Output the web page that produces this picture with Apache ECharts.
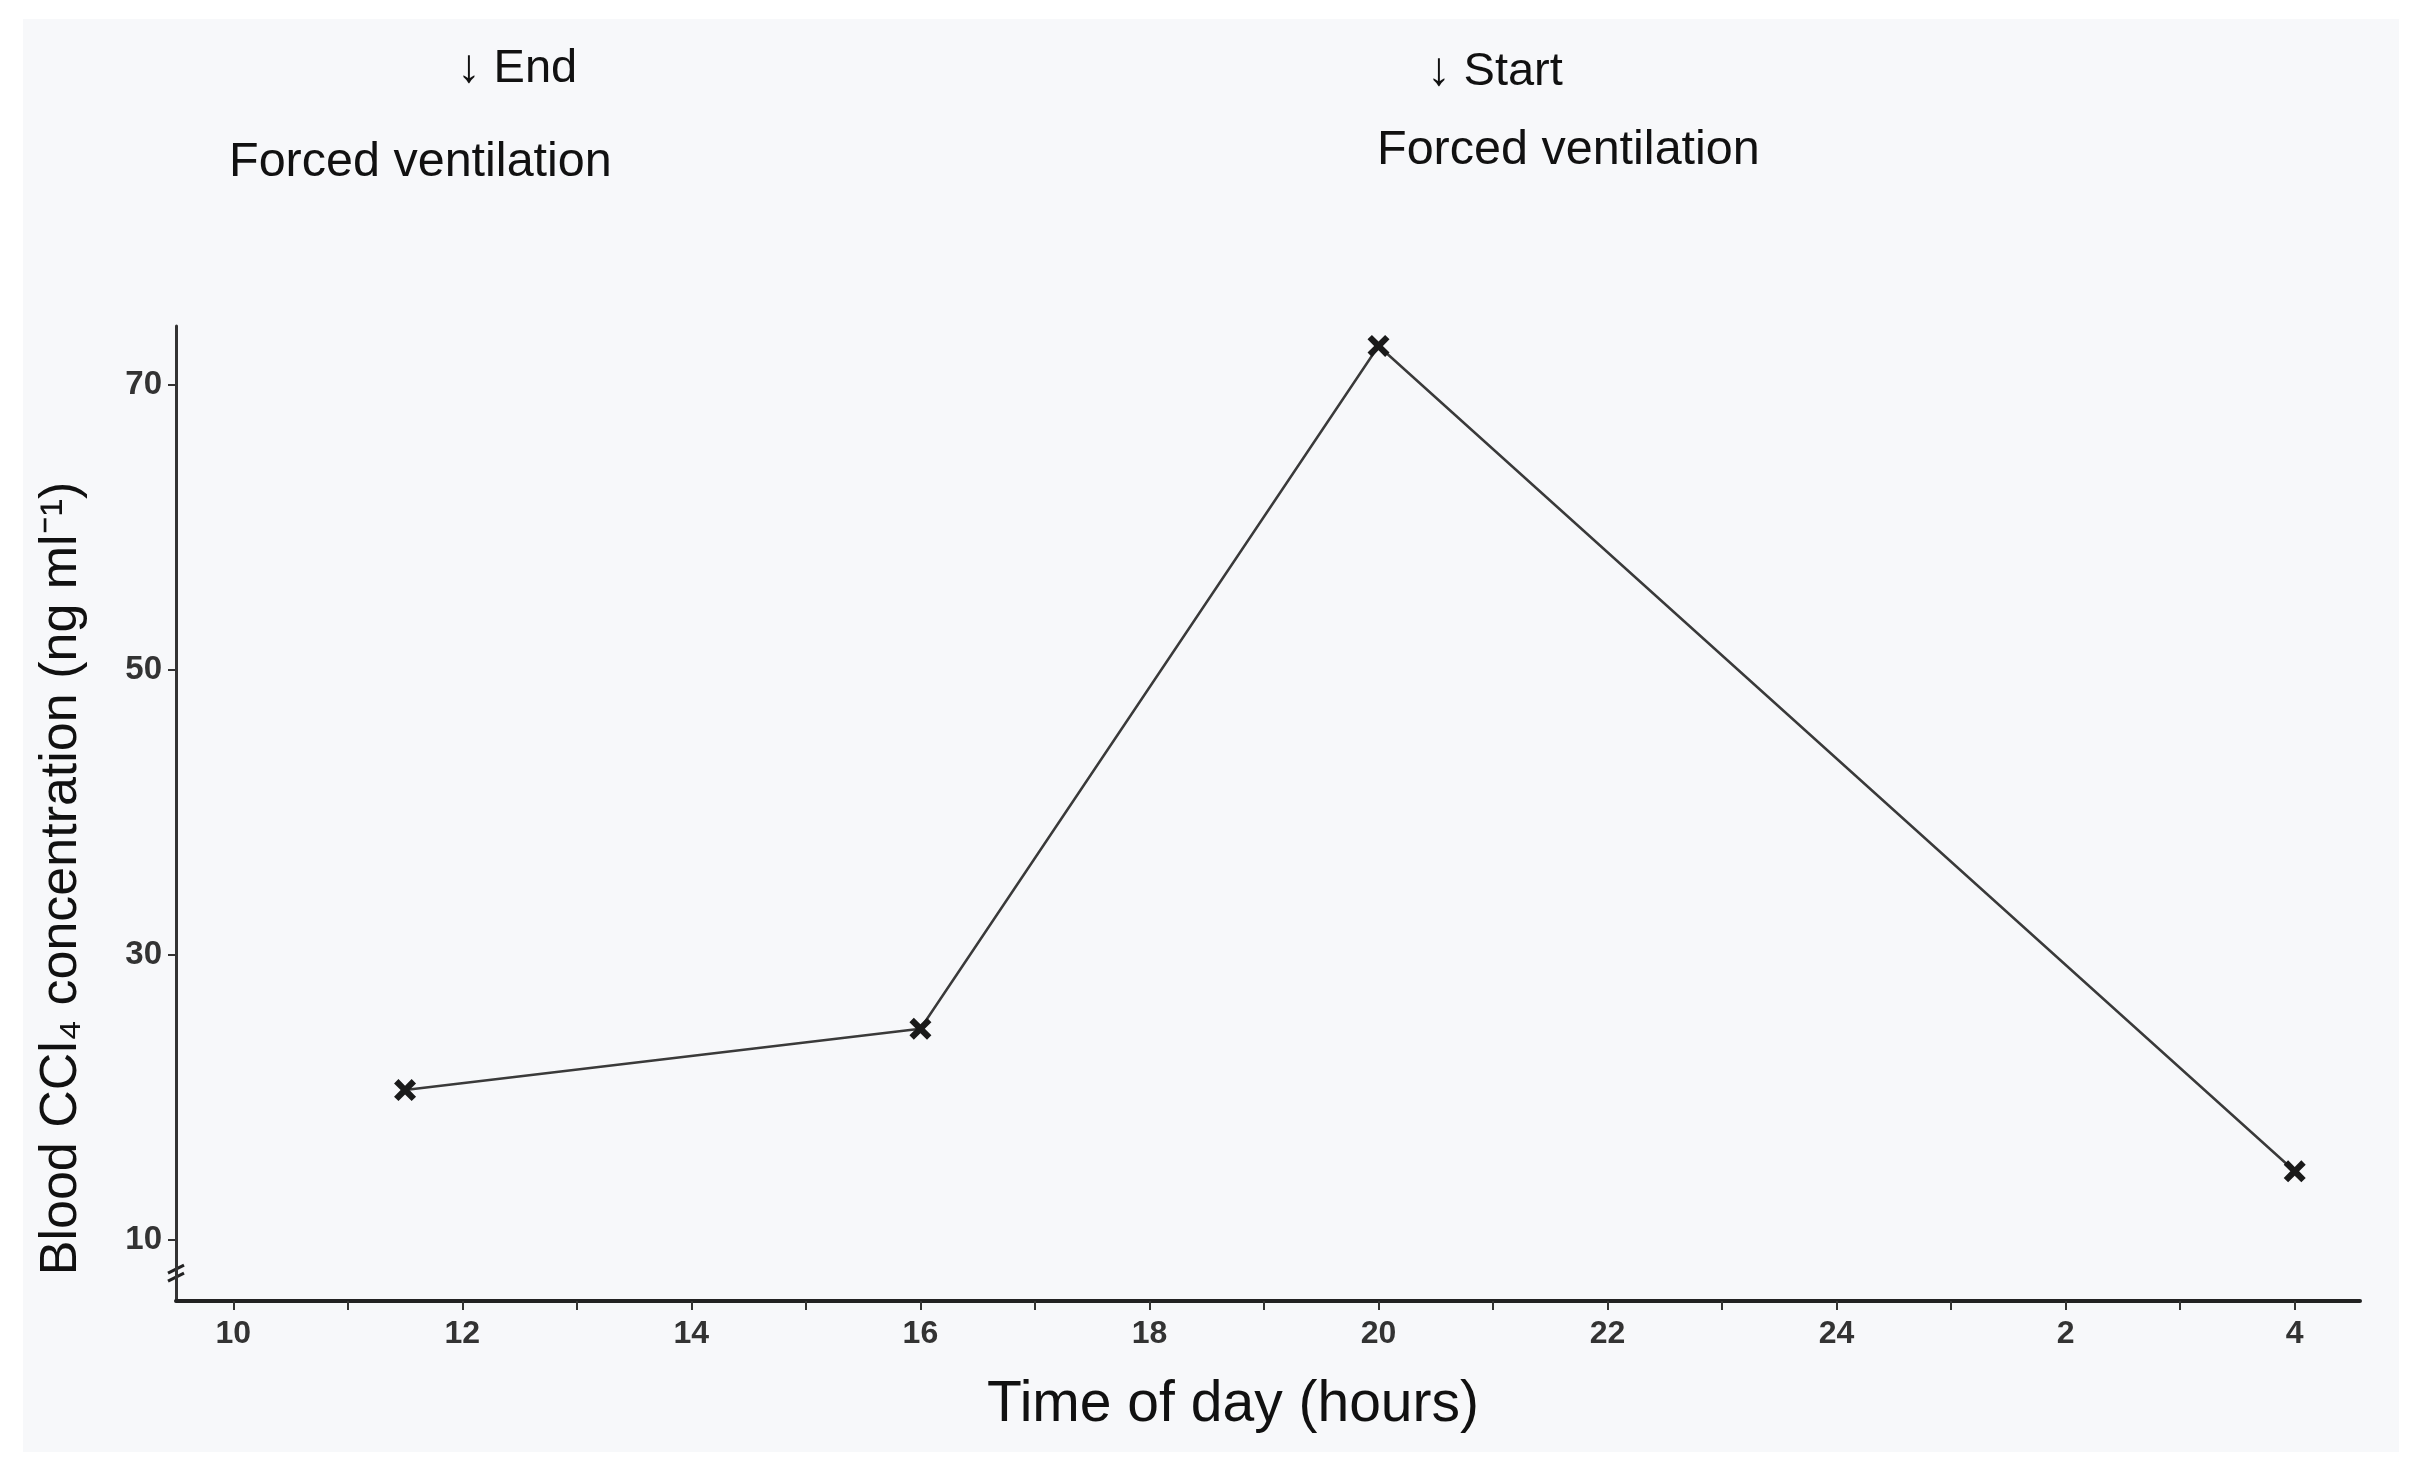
<!DOCTYPE html>
<html>
<head>
<meta charset="utf-8">
<script src="https://cdn.jsdelivr.net/npm/echarts@6/dist/echarts.min.js"></script>
<style>
  html, body { margin: 0; padding: 0; background: #fff; }
  #chart { width: 2422px; height: 1480px; }
</style>
</head>
<body>
<div id="chart"></div>
<script>
// time of day in hours (after midnight continues as 24 + h)
var hours = [11.5, 16, 20, 28]
var concentration = [20.5, 24.8, 72.7, 14.8]

var xTickValues = [10, 11, 12, 13, 14, 15, 16, 17, 18, 19, 20, 21, 22, 23, 24, 25, 26, 27, 28]
var xLabelValues = [10, 12, 14, 16, 18, 20, 22, 24, 26, 28]
var yLabelValues = [10, 30, 50, 70]

var xMin = 9.5, xMax = 28.57
var yMin = 5.7, yMax = 74.1

var points = hours.map(function (h, i) { return [h, concentration[i]] })

var crossPath = 'path://M0,2L2,0L5,3L8,0L10,2L7,5L10,8L8,10L5,7L2,10L0,8L3,5Z'

var chart = echarts.init(document.getElementById('chart'))

var option = {
	backgroundColor: '#ffffff',
	animation: false,
	grid: { left: 176, right: 62, top: 326, bottom: 179 },
	xAxis: {
		type: 'value',
		min: xMin,
		max: xMax,
		name: 'Time of day (hours)',
		nameLocation: 'middle',
		nameGap: 76,
		nameTextStyle: {
			fontFamily: 'Liberation Sans',
			fontSize: 57,
			color: '#111',
			padding: [0, 70, 0, 0]
		},
		splitLine: { show: false },
		axisLine: { lineStyle: { color: '#222', width: 4 } },
		axisTick: {
			customValues: xTickValues,
			length: 9,
			lineStyle: { color: '#333', width: 2 }
		},
		axisLabel: {
			customValues: xLabelValues,
			margin: 17,
			fontFamily: 'Liberation Sans',
			fontWeight: 'bold',
			fontSize: 32,
			color: '#333',
			formatter: function (v) { return v > 24 ? String(v - 24) : String(v) }
		}
	},
	yAxis: {
		type: 'value',
		min: yMin,
		max: yMax,
		name: 'Blood CCl\u2084 concentration (ng ml\u207B\u00B9)',
		nameLocation: 'middle',
		nameGap: 88,
		nameTextStyle: {
			fontFamily: 'Liberation Sans',
			fontSize: 52,
			color: '#111',
			padding: [0, 130, 0, 0]
		},
		splitLine: { show: false },
		axisLine: { lineStyle: { color: '#333', width: 3 } },
		axisTick: {
			customValues: yLabelValues,
			length: 8,
			lineStyle: { color: '#333', width: 2 }
		},
		axisLabel: {
			customValues: yLabelValues,
			margin: 14,
			fontFamily: 'Liberation Sans',
			fontWeight: 'bold',
			fontSize: 33,
			color: '#333'
		}
	},
	series: [
		{
			type: 'line',
			data: points,
			symbol: crossPath,
			symbolSize: 22,
			lineStyle: { color: '#3a3a3a', width: 2.5 },
			itemStyle: { color: '#1a1a1a' }
		}
	],
	graphic: [
		{
			type: 'rect',
			z: -10,
			shape: { x: 23, y: 19, width: 2376, height: 1433 },
			style: { fill: '#f7f8fa' }
		},
		{
			type: 'text',
			left: 457,
			top: 46,
			style: { text: '\u2193 End', fontFamily: 'Liberation Sans', fontSize: 47, fill: '#111' }
		},
		{
			type: 'text',
			left: 229,
			top: 138,
			style: { text: 'Forced ventilation', fontFamily: 'Liberation Sans', fontSize: 48.5, fill: '#111' }
		},
		{
			type: 'text',
			left: 1427,
			top: 49,
			style: { text: '\u2193 Start', fontFamily: 'Liberation Sans', fontSize: 47, fill: '#111' }
		},
		{
			type: 'text',
			left: 1377,
			top: 126,
			style: { text: 'Forced ventilation', fontFamily: 'Liberation Sans', fontSize: 48.5, fill: '#111' }
		}
	]
}

chart.setOption(option, true)

// axis break mark on the y axis, placed through the axis scale
var br = chart.convertToPixel({ gridIndex: 0 }, [xMin, 7.8])
chart.setOption({
	graphic: option.graphic.concat([
		{
			type: 'group',
			x: br[0],
			y: br[1],
			children: [
				{ type: 'line', shape: { x1: -8, y1: 2, x2: 8, y2: -6 }, style: { stroke: '#222', lineWidth: 3 } },
				{ type: 'line', shape: { x1: -8, y1: 10, x2: 8, y2: 2 }, style: { stroke: '#222', lineWidth: 3 } }
			]
		}
	])
})
</script>
</body>
</html>
